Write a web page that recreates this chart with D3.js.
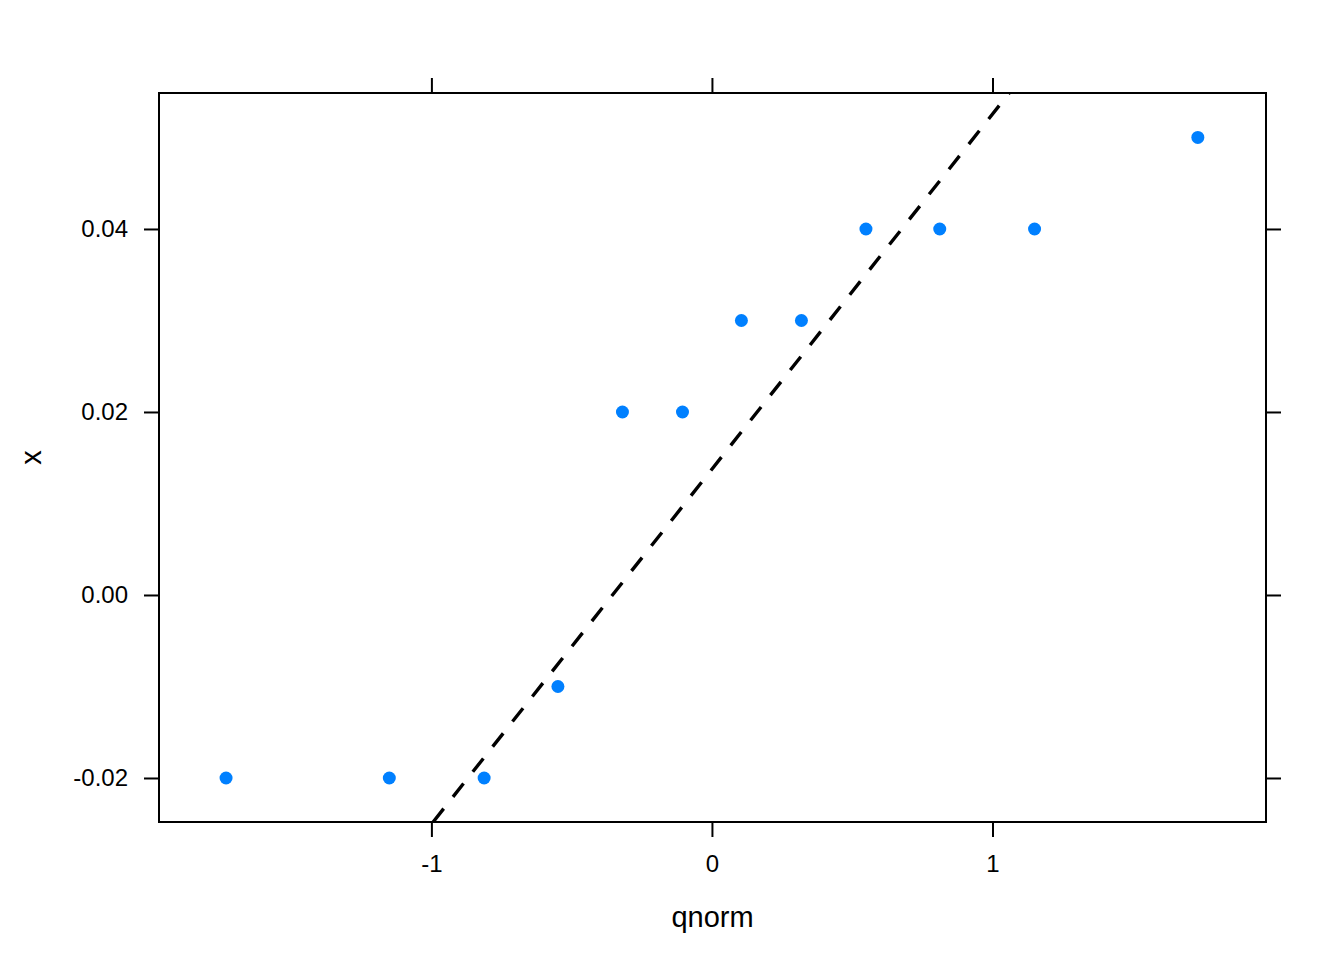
<!DOCTYPE html>
<html>
<head>
<meta charset="utf-8">
<script src="https://cdn.jsdelivr.net/npm/d3@7"></script>
<style>
  body { margin: 0; background: #fff; }
  text { font-family: "Liberation Sans", Arial, sans-serif; fill: #000; }
</style>
</head>
<body>
<svg id="chart" width="1344" height="960"></svg>
<script>
// theoretical normal quantiles and sorted sample values
var qnorm = [-1.732, -1.150, -0.812, -0.549, -0.319, -0.105, 0.105, 0.319, 0.549, 0.812, 1.150, 1.732];
var xvals = [-0.02, -0.02, -0.02, -0.01, 0.02, 0.02, 0.03, 0.03, 0.04, 0.04, 0.04, 0.05];
var xTicks = [-1, 0, 1];
var yTicks = [-0.02, 0.00, 0.02, 0.04];
// reference line through quartiles
var lineIntercept = 0.01375;
var lineSlope = 0.03880;

var svg = d3.select('#chart');
var pLeft = 159, pRight = 1266, pTop = 93, pBottom = 822;

var x = d3.scaleLinear().domain([-1.971, 1.975]).range([pLeft, pRight]);
var y = d3.scaleLinear().domain([-0.02481, 0.05486]).range([pBottom, pTop]);

function hyphen(f) {
    return function (d) { return f(d).replace('\u2212', '-'); };
}

svg.append('g').attr('transform', 'translate(0,' + pBottom + ')')
    .call(d3.axisBottom(x).tickValues(xTicks).tickSize(15).tickPadding(18).tickFormat(hyphen(d3.format('d'))));
svg.append('g').attr('transform', 'translate(0,' + pTop + ')')
    .call(d3.axisTop(x).tickValues(xTicks).tickSize(15).tickFormat(''));
svg.append('g').attr('transform', 'translate(' + pLeft + ',0)')
    .call(d3.axisLeft(y).tickValues(yTicks).tickSize(15).tickPadding(16).tickFormat(hyphen(d3.format('.2f'))));
svg.append('g').attr('transform', 'translate(' + pRight + ',0)')
    .call(d3.axisRight(y).tickValues(yTicks).tickSize(15).tickFormat(''));

svg.selectAll('.domain').remove();
svg.selectAll('.tick line').attr('stroke', '#000').attr('stroke-width', 2);
svg.selectAll('.tick text').style('font-size', '24px').attr('fill', '#000');

svg.append('rect')
    .attr('x', pLeft).attr('y', pTop)
    .attr('width', pRight - pLeft).attr('height', pBottom - pTop)
    .attr('fill', 'none').attr('stroke', '#000').attr('stroke-width', 2);

svg.append('defs').append('clipPath').attr('id', 'panel')
    .append('rect').attr('x', pLeft).attr('y', pTop)
    .attr('width', pRight - pLeft).attr('height', pBottom - pTop);

// draw from the bottom edge upward so the dash pattern starts at the panel edge
var yd = y.domain();
var xStart = (yd[0] - lineIntercept) / lineSlope;
var xEnd = (yd[1] - lineIntercept) / lineSlope;
svg.append('line')
    .attr('clip-path', 'url(#panel)')
    .attr('x1', x(xStart)).attr('y1', y(yd[0]))
    .attr('x2', x(xEnd)).attr('y2', y(yd[1]))
    .attr('stroke', '#000').attr('stroke-width', 3.4)
    .attr('stroke-dasharray', '17,15');

svg.append('g').selectAll('circle')
    .data(qnorm)
    .enter()
    .append('circle')
    .attr('cx', function (d) { return x(d); })
    .attr('cy', function (d, i) { return y(xvals[i]); })
    .attr('r', 6.5)
    .attr('fill', '#0080ff');

svg.append('text')
    .attr('x', (pLeft + pRight) / 2).attr('y', 927)
    .attr('text-anchor', 'middle')
    .style('font-size', '29px')
    .text('qnorm');

svg.append('text')
    .attr('transform', 'translate(41,' + ((pTop + pBottom) / 2) + ') rotate(-90)')
    .attr('text-anchor', 'middle')
    .style('font-size', '29px')
    .text('x');
</script>
</body>
</html>
